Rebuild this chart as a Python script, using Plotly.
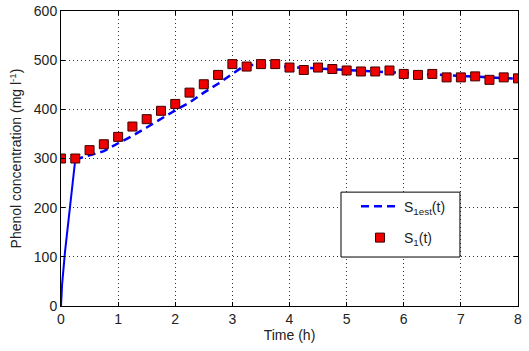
import plotly.graph_objects as go

# Measured data S1(t)
t_meas = [0, 0.25, 0.5, 0.75, 1.0, 1.25, 1.5, 1.75, 2.0, 2.25, 2.5, 2.75, 3.0, 3.25, 3.5, 3.75,
          4.0, 4.25, 4.5, 4.75, 5.0, 5.25, 5.5, 5.75, 6.0, 6.25, 6.5, 6.75, 7.0, 7.25, 7.5, 7.75, 8.0]
s1_meas = [300, 300, 317, 329, 344, 365, 380, 397, 411, 434, 451, 470, 492, 487, 492, 492,
           485, 480, 485, 482, 479, 477, 477, 479, 472, 470, 472, 465, 465, 467, 460, 465, 463]

# Estimated S1est(t): initial steep rise and the rest
t_est_rise = [0, 0.02, 0.07, 0.15, 0.25]
s1_est_rise = [0, 45, 110, 200, 298]
t_est = [0.25, 0.5, 0.75, 1.0, 1.25, 1.5, 1.75, 2.0, 2.25, 2.5, 2.75, 3.0, 3.15, 3.3, 3.5,
         3.75, 4.0, 4.5, 5.0, 5.5, 6.0, 6.5, 7.0, 7.5, 8.0]
s1_est = [298, 306, 315, 331, 346, 363, 381, 398, 414, 434, 452, 473, 484, 490, 491,
          489, 486, 483, 480, 478, 474, 471, 468, 465, 462]

x_ticks = [0, 1, 2, 3, 4, 5, 6, 7, 8]
y_ticks = [0, 100, 200, 300, 400, 500, 600]

fig = go.Figure()
fig.add_trace(go.Scatter(
    x=t_est_rise, y=s1_est_rise, mode="lines", showlegend=False,
    line=dict(color="#0000FF", width=2), hoverinfo="skip",
))
fig.add_trace(go.Scatter(
    x=t_est, y=s1_est, mode="lines", name="S<sub>1est</sub>(t)",
    line=dict(color="#0000FF", width=2.5, dash="8px,5px"), legend="legend",
))
fig.add_trace(go.Scatter(
    x=t_meas, y=s1_meas, mode="markers", name="S<sub>1</sub>(t)",
    marker=dict(symbol="square", size=9, color="#EE0000",
                line=dict(color="#400000", width=1)), legend="legend2",
))

axis_common = dict(
    showline=True, linecolor="black", linewidth=1, mirror="ticks",
    ticks="inside", ticklen=4, tickcolor="black",
    showgrid=True, gridcolor="#333333", gridwidth=1, griddash="1px,3px",
    zeroline=False, tickfont=dict(size=14, color="#222222"),
    automargin=False,
)

fig.update_xaxes(range=[0, 8], tickvals=x_ticks,
                 title=dict(text="Time (h)", font=dict(size=14, color="#222222"), standoff=2),
                 **axis_common)
fig.update_yaxes(range=[0, 600], tickvals=y_ticks,
                 title=dict(text="Phenol concentration (mg l<sup>-1</sup>)",
                            font=dict(size=14, color="#222222"), standoff=8),
                 **axis_common)

# legend box
fig.add_shape(type="rect", xref="paper", yref="paper",
              x0=0.6127, x1=0.873, y0=0.166, y1=0.386,
              fillcolor="white", line=dict(color="black", width=1), layer="above")

leg_common = dict(bgcolor="rgba(0,0,0,0)", borderwidth=0, font=dict(size=14),
                  itemwidth=38, xanchor="left", yanchor="middle")
fig.update_layout(
    width=529, height=351,
    margin=dict(l=61, r=11, t=11, b=45),
    paper_bgcolor="white", plot_bgcolor="white",
    font=dict(family="Liberation Sans, Arial, sans-serif", color="#222222"),
    legend=dict(x=0.6455, y=0.3366, **leg_common),
    legend2=dict(x=0.6455, y=0.2305, **leg_common),
    showlegend=True,
)

fig.write_html("out.html", config={"displayModeBar": False},
               post_script="document.body.style.margin='0';")
